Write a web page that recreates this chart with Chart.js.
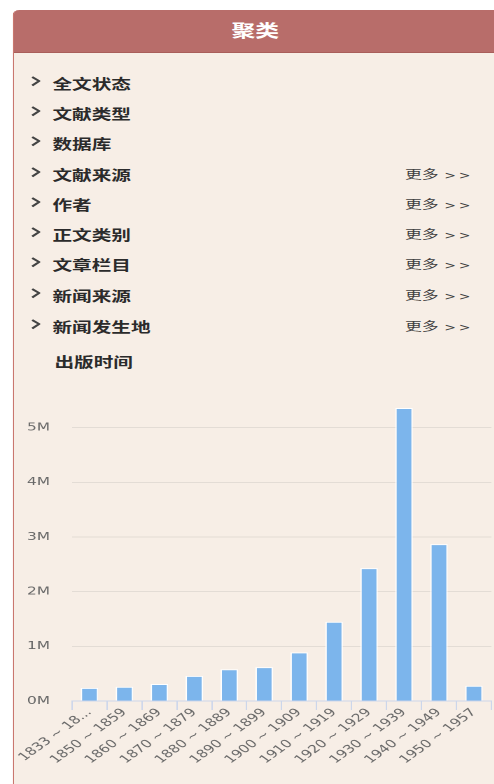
<!DOCTYPE html>
<html>
<head>
<meta charset="utf-8">
<script src="https://cdn.jsdelivr.net/npm/chart.js@4.4.1/dist/chart.umd.min.js"></script>
<style>
  html, body { margin: 0; padding: 0; background: #ffffff; overflow: hidden; width: 494px; height: 784px; }
  #wrap { position: absolute; left: 0; top: 0; width: 353px; height: 784px; transform: scaleX(1.4); transform-origin: 0 0; }
  #panel { position: absolute; left: 9.3px; top: 10px; width: 344px; height: 774px; background: #f7eee6; border-left: 1.5px solid #c9776f; border-top-left-radius: 5px; }
  #head { position: absolute; left: 0; top: 0; right: 0; height: 42px; background: #b86d6a; border-top-left-radius: 4px; border-bottom: 1px solid #a95e5a; color: #fff; text-align: center; font: bold 17px "Noto Sans CJK SC", sans-serif; line-height: 40px; }
  .row { position: absolute; left: 0; height: 20px; line-height: 20px; font-family: "Noto Sans CJK SC", sans-serif; }
  .row svg { position: absolute; left: 12px; top: 3px; }
  .lab { position: absolute; left: 27.2px; font-size: 14px; font-weight: bold; color: #2b2b2b; white-space: nowrap; }
  .more { position: absolute; left: 279px; font-size: 12px; color: #3f3f3f; white-space: nowrap; }
  .more .ar { font-family: "DejaVu Sans", sans-serif; font-size: 10px; letter-spacing: 2px; margin-left: 4px; }
  #cv { position: absolute; left: 10px; top: 378px; }
</style>
</head>
<body>
<div id="wrap">
  <div id="panel">
    <div id="head">聚类</div>
    <div id="list"></div>
  </div>
  <canvas id="cv" width="343" height="406"></canvas>
</div>
<script>
// ---- data ----
const facetNames = ['全文状态', '文献类型', '数据库', '文献来源', '作者', '正文类别', '文章栏目', '新闻来源', '新闻发生地'];
const facetHasMore = [false, false, false, true, true, true, true, true, true];
const periodTitle = '出版时间';
const categories = ['1833 ~ 18...', '1850 ~ 1859', '1860 ~ 1869', '1870 ~ 1879', '1880 ~ 1889', '1890 ~ 1899', '1900 ~ 1909', '1910 ~ 1919', '1920 ~ 1929', '1930 ~ 1939', '1940 ~ 1949', '1950 ~ 1957'];
const counts = [240000, 260000, 310000, 460000, 580000, 620000, 890000, 1450000, 2430000, 5360000, 2870000, 280000];
const yTickValues = [0, 1000000, 2000000, 3000000, 4000000, 5000000];
const yTickLabels = ['0M', '1M', '2M', '3M', '4M', '5M'];

// ---- list ----
const list = document.getElementById('list');
const rowCenters = [73, 103, 133, 164, 194, 224, 254, 285, 316];
facetNames.forEach((name, i) => {
  const r = document.createElement('div');
  r.className = 'row';
  r.style.top = (rowCenters[i] - 10) + 'px';
  r.style.width = '100%';
  r.innerHTML = '<svg width="7" height="11" viewBox="0 0 7 11"><polyline points="1,1 6,5 1,9.5" fill="none" stroke="#444" stroke-width="1.8"/></svg>' +
    '<span class="lab">' + name + '</span>' +
    (facetHasMore[i] ? '<span class="more">更多<span class="ar">&gt;&gt;</span></span>' : '');
  list.appendChild(r);
});
const pt = document.createElement('div');
pt.className = 'row';
pt.style.top = (351 - 10) + 'px';
pt.innerHTML = '<span class="lab" style="left:28.6px">' + periodTitle + '</span>';
list.appendChild(pt);

// ---- chart ----
new Chart(document.getElementById('cv'), {
  type: 'bar',
  data: {
    labels: categories,
    datasets: [{
      data: counts,
      backgroundColor: '#7cb5ec',
      borderColor: '#ffffff',
      borderWidth: 1,
      barPercentage: 0.5,
      categoryPercentage: 1.0
    }]
  },
  options: {
    responsive: false,
    animation: false,
    devicePixelRatio: 2,
    layout: { padding: { top: 8, right: 2, left: 0, bottom: 0 } },
    plugins: { legend: { display: false }, tooltip: { enabled: false } },
    scales: {
      x: {
        grid: { offset: true, drawOnChartArea: false, drawTicks: true, tickLength: 9, color: '#ccd6eb' },
        border: { color: '#ccd6eb' },
        ticks: { minRotation: 45, maxRotation: 45, autoSkip: false, padding: -4, color: '#666666', font: { family: 'DejaVu Sans', size: 11 } },
        afterFit: s => { s.height = 83; }
      },
      y: {
        min: 0, max: 5500000,
        afterBuildTicks: s => { s.ticks = yTickValues.map(v => ({ value: v })); },
        grid: { drawTicks: false, color: '#e3dcd5' },
        border: { display: false },
        ticks: {
          padding: 15.7, color: '#666666', font: { family: 'DejaVu Sans', size: 11 },
          callback: (v) => { const i = yTickValues.indexOf(v); return i >= 0 ? yTickLabels[i] : ''; }
        },
        afterFit: s => { s.width = 41.4; }
      }
    }
  }
});
</script>
</body>
</html>
